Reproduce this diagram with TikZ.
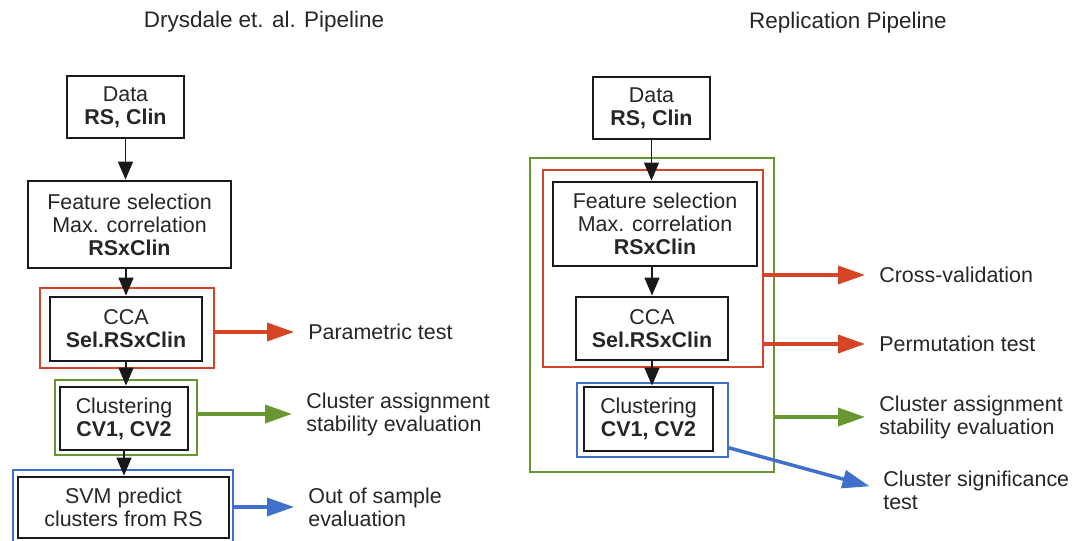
\documentclass[tikz,border=0pt]{standalone}
\usepackage{fontspec}
\setmainfont{Liberation Sans}
\usetikzlibrary{arrows.meta}
\definecolor{cvred}{RGB}{214,68,38}
\definecolor{stgreen}{RGB}{104,150,48}
\definecolor{sigblue}{RGB}{62,112,204}
\begin{document}
\begin{tikzpicture}[x=0.02cm, y=-0.02cm, font=\fontsize{12.2}{13.1}\selectfont, text=black!85]
% left: original pipeline, right: replication
\tikzstyle{box} = [rectangle, draw=black!90, line width=1.6pt, align=center, inner sep=0pt]
\tikzstyle{frame} = [rectangle, line width=1.2pt, inner sep=0pt]
\tikzstyle{note} = [anchor=west, align=left, inner sep=0pt]
\tikzstyle{flow} = [-{Triangle[length=0.36cm, width=0.3cm]}, line width=0.8pt, black!90]
\tikzstyle{test} = [-{Triangle[length=0.54cm, width=0.36cm]}, line width=2pt, shorten >=0.28cm]
\useasboundingbox (0,0) rectangle (1072,541);
\node (TitleL) [font=\fontsize{12.8}{14}\selectfont] at (264,22) {Drysdale et. al. Pipeline};
\node (TitleR) [font=\fontsize{12.8}{14}\selectfont] at (848,23) {Replication Pipeline};

\node (DataL) [box, minimum width=2.34cm, minimum height=1.24cm] at (125.5,107) {Data\\\textbf{RS, Clin}};
\node (FeatL) [box, minimum width=4.06cm, minimum height=1.74cm] at (129.5,224.5) {Feature selection\\Max. correlation\\\textbf{RSxClin}};
\node (RedL) [frame, draw=cvred, minimum width=3.48cm, minimum height=1.6cm] at (127,328) {};
\node (CCAL) [box, minimum width=3.04cm, minimum height=1.28cm] at (126,329) {CCA\\\textbf{Sel.RSxClin}};
\node (GreenL) [frame, draw=stgreen, minimum width=2.84cm, minimum height=1.5cm] at (126,417.5) {};
\node (ClusL) [box, minimum width=2.56cm, minimum height=1.26cm] at (124,418.5) {Clustering\\\textbf{CV1, CV2}};
\node (BlueL) [frame, draw=sigblue, minimum width=4.4cm, minimum height=1.6cm] at (123,510) {};
\node (SVML) [box, minimum width=4.22cm, minimum height=1.22cm] at (123.5,507.5) {SVM predict\\clusters from RS};
\node (ParL) [note] at (308,332) {Parametric test};
\node (StabL) [note] at (306,414) {Cluster assignment\\stability evaluation};
\node (OosL) [note] at (308,507) {Out of sample\\evaluation};
\draw [flow] (DataL.south) -- (DataL.south |- FeatL.north);
\draw [flow] (CCAL.north |- FeatL.south) -- (CCAL.north);
\draw [flow] (CCAL.south) -- (CCAL.south |- ClusL.north);
\draw [flow] (ClusL.south) -- (ClusL.south |- SVML.north);
\draw [test, cvred] (RedL.east |- ParL) -- (ParL.west);
\draw [test, stgreen] (GreenL.east |- StabL) -- (StabL.west);
\draw [test, sigblue] (BlueL.east |- OosL) -- (OosL.west);

\node (DataR) [box, minimum width=2.34cm, minimum height=1.24cm] at (651.5,108) {Data\\\textbf{RS, Clin}};
\node (GreenR) [frame, draw=stgreen, minimum width=4.88cm, minimum height=6.28cm] at (652,315) {};
\node (RedR) [frame, draw=cvred, minimum width=4.4cm, minimum height=3.94cm] at (653,268.5) {};
\node (FeatR) [box, minimum width=4.08cm, minimum height=1.68cm] at (655,224) {Feature selection\\Max. correlation\\\textbf{RSxClin}};
\node (CCAR) [box, minimum width=3.04cm, minimum height=1.26cm] at (652,328.5) {CCA\\\textbf{Sel.RSxClin}};
\node (BlueR) [frame, draw=sigblue, minimum width=3.02cm, minimum height=1.48cm] at (652.5,420) {};
\node (ClusR) [box, minimum width=2.58cm, minimum height=1.28cm] at (648.5,419) {Clustering\\\textbf{CV1, CV2}};
\node (CvR) [note] at (879,275) {Cross-validation};
\node (PermR) [note] at (879,344) {Permutation test};
\node (StabR) [note] at (879,417) {Cluster assignment\\stability evaluation};
\node (SigR) [note] at (883,490) {Cluster significance\\test};
\draw [flow] (DataR.south) -- (DataR.south |- FeatR.north);
\draw [flow] (CCAR.north |- FeatR.south) -- (CCAR.north);
\draw [flow] (CCAR.south) -- (CCAR.south |- ClusR.north);
\draw [test, cvred] (RedR.east |- CvR) -- (CvR.west);
\draw [test, cvred] (RedR.east |- PermR) -- (PermR.west);
\draw [test, stgreen] (GreenR.east |- StabR) -- (StabR.west);
\draw [test, sigblue] (BlueR.-20) -- (SigR.west);
\end{tikzpicture}
\end{document}
